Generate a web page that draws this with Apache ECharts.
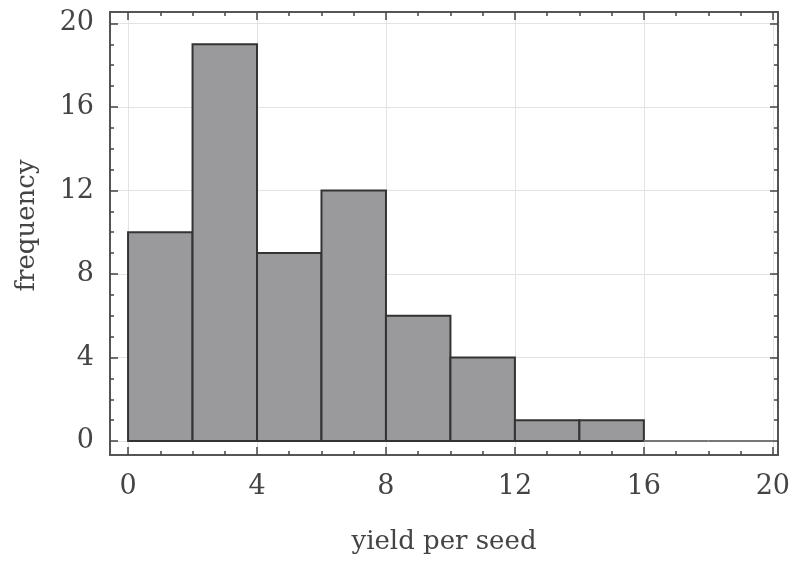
<!DOCTYPE html>
<html>
<head>
<meta charset="utf-8">
<script src="https://cdn.jsdelivr.net/npm/echarts@6/dist/echarts.min.js"></script>
<style>
html,body{margin:0;padding:0;background:#fff;}
#main{width:793px;height:561px;}
</style>
</head>
<body>
<div id="main"></div>
<script>
// histogram bins (width 2) and counts
var binStart = [0, 2, 4, 6, 8, 10, 12, 14, 16, 18];
var binEnd = [2, 4, 6, 8, 10, 12, 14, 16, 18, 20];
var counts = [10, 19, 9, 12, 6, 4, 1, 1, 0, 0];

var xMajor = [0, 4, 8, 12, 16, 20];
var yMajor = [0, 4, 8, 12, 16, 20];
var xMinor = [0,1,2,3,4,5,6,7,8,9,10,11,12,13,14,15,16,17,18,19,20];
var yMinor = [0,1,2,3,4,5,6,7,8,9,10,11,12,13,14,15,16,17,18,19,20];

var xMin = -0.56, xMax = 20.16;
var yMin = -0.67, yMax = 20.55;

var font = "DejaVu Serif";
var frameColor = "#555";

function axis(pos, min, max, ticks, len, main, name) {
	var a = {
		type: "value",
		position: pos,
		min: min,
		max: max,
		axisLine: {show: true, onZero: false, lineStyle: {color: frameColor, width: 2}},
		axisTick: {show: true, inside: true, length: len, customValues: ticks,
			lineStyle: {color: "#444", width: 1.5}},
		axisLabel: {show: false},
		splitLine: {show: false}
	};
	if (main) {
		a.axisLabel = {show: true, customValues: ticks, color: "#444",
			fontFamily: font, fontSize: 27, margin: pos == "bottom" ? 18 : 16};
		a.splitLine = {show: true, lineStyle: {color: "#e3e3e3", width: 1}};
		a.name = name;
		a.nameLocation = "middle";
		a.nameGap = pos == "bottom" ? 74 : 70;
		a.nameTextStyle = {color: "#444", fontFamily: font, fontSize: 26,
			padding: pos == "bottom" ? 0 : [0, 0, 0, 16]};
	}
	return a;
}

var data = [];
for (var i = 0; i < counts.length; i++) {
	data.push([binStart[i], binEnd[i], counts[i]]);
}

var myChart = echarts.init(document.getElementById("main"));

var option = {
	backgroundColor: "#fff",
	animation: false,
	grid: {left: 110, top: 12, right: 15, bottom: 106},
	xAxis: [
		axis("bottom", xMin, xMax, xMajor, 8, true, "yield per seed"),
		axis("bottom", xMin, xMax, xMinor, 4, false),
		axis("top", xMin, xMax, xMajor, 8, false),
		axis("top", xMin, xMax, xMinor, 4, false)
	],
	yAxis: [
		axis("left", yMin, yMax, yMajor, 8, true, "frequency"),
		axis("left", yMin, yMax, yMinor, 4, false),
		axis("right", yMin, yMax, yMajor, 8, false),
		axis("right", yMin, yMax, yMinor, 4, false)
	],
	series: [{
		type: "custom",
		xAxisIndex: 0,
		yAxisIndex: 0,
		data: data,
		renderItem: function (params, api) {
			var p0 = api.coord([api.value(0), api.value(2)]);
			var p1 = api.coord([api.value(1), 0]);
			var empty = api.value(2) == 0;
			return {
				type: "rect",
				shape: {x: p0[0], y: p0[1], width: p1[0] - p0[0], height: p1[1] - p0[1]},
				style: {fill: "#9a9a9c", stroke: empty ? "#777" : "#333", lineWidth: 2}
			};
		}
	}]
};

myChart.setOption(option);
</script>
</body>
</html>
